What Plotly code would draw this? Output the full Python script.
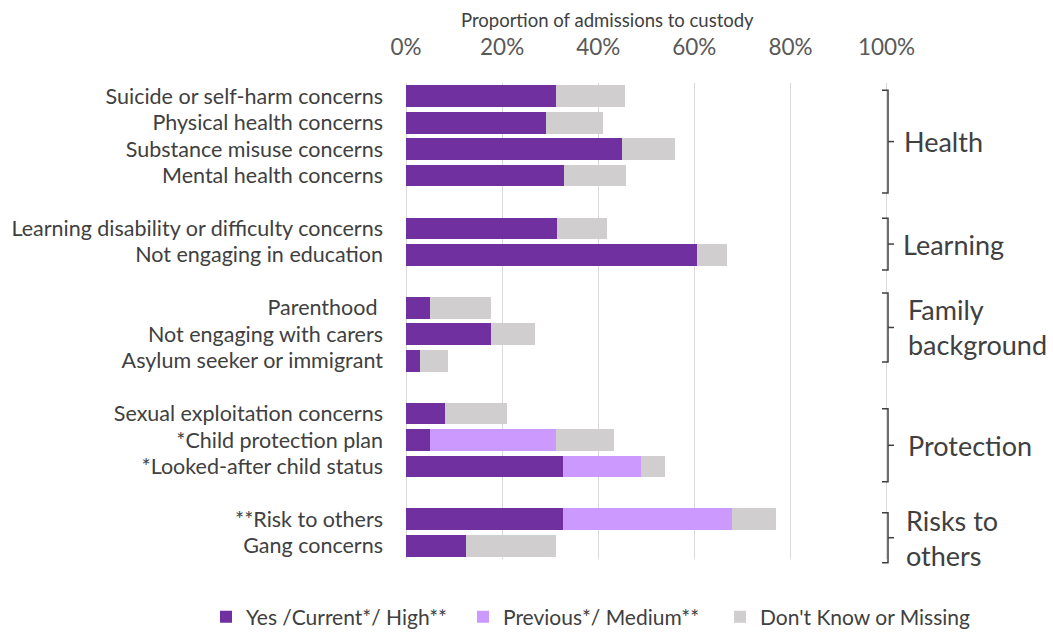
import plotly.graph_objects as go

# ---- data ----
group_names = ["Health", "Learning", "Family<br>background", "Protection", "Risks to<br>others"]
group_items = [
    ["Suicide or self-harm concerns", "Physical health concerns",
     "Substance misuse concerns", "Mental health concerns"],
    ["Learning disability or difficulty concerns", "Not engaging in education"],
    ["Parenthood ", "Not engaging with carers", "Asylum seeker or immigrant"],
    ["Sexual exploitation concerns", "*Child protection plan", "*Looked-after child status"],
    ["**Risk to others", "Gang concerns"],
]
yes_current_high = [31.2, 29.1, 45.0, 32.9, 31.5, 60.5, 5.0, 17.6, 2.9, 8.2, 5.0, 32.7, 32.7, 12.5]
previous_medium = [0, 0, 0, 0, 0, 0, 0, 0, 0, 0, 26.2, 16.1, 35.1, 0]
dont_know_missing = [14.4, 11.9, 10.9, 12.9, 10.4, 6.4, 12.6, 9.2, 5.8, 12.8, 12.1, 5.1, 9.2, 18.7]
series_names = ["Yes /Current*/ High**", "Previous*/ Medium**", "Don't Know or Missing"]
x_ticks = [0, 20, 40, 60, 80, 100]
x_tick_labels = ["0%", "20%", "40%", "60%", "80%", "100%"]

# ---- style ----
colors = ["#7030A0", "#CC99FF", "#D0CECE"]
FONT = "Lato"
TXT = "#404040"
W, H = 1053, 632
ML, MR, MT, MB = 406, 165, 83, 73
# bracket vertical extents relative to first/last item (in slot units)
bracket_pad = [(-0.23, 0.66), (-0.39, 0.57), (-0.56, 0.05), (-0.18, 0.58), (-0.25, 0.64)]
label_dx = [14, 13, 18, 18, 16]

# slot positions: one blank slot between groups
labels, ypos, group_ranges = [], [], []
slot = 0
for items in group_items:
    start = slot
    for it in items:
        labels.append(it)
        ypos.append(slot)
        slot += 1
    group_ranges.append((start, slot - 1))
    slot += 1
n_slots = slot - 1
y_lo, y_hi = -0.5, n_slots - 0.5

fig = go.Figure()
for name, vals, col in zip(series_names, [yes_current_high, previous_medium, dont_know_missing], colors):
    fig.add_trace(go.Bar(
        y=ypos, x=vals, name=name, orientation="h",
        marker=dict(color=col, line=dict(width=0)), width=0.82,
    ))

plot_w = W - ML - MR
plot_h = H - MT - MB


def ypaper(s):
    return (y_hi - s) / (y_hi - y_lo)


shapes = []
annotations = []
for gi, (g0, g1) in enumerate(group_ranges):
    top = g0 + bracket_pad[gi][0]
    bot = g1 + bracket_pad[gi][1]
    mid = (top + bot) / 2
    xb = 1.0
    tick = 6 / plot_w
    yt, yb, ym = ypaper(top), ypaper(bot), ypaper(mid)
    shapes.append(dict(type="path", xref="paper", yref="paper",
                       path=f"M {xb - tick} {yt} L {xb} {yt} L {xb} {yb} L {xb - tick} {yb}",
                       line=dict(color=TXT, width=1.5)))
    shapes.append(dict(type="line", xref="paper", yref="paper",
                       x0=xb, x1=xb + tick, y0=ym, y1=ym,
                       line=dict(color=TXT, width=1.5)))
    annotations.append(dict(xref="paper", yref="paper", x=xb + label_dx[gi] / plot_w, y=ym,
                            xanchor="left", yanchor="middle", align="left",
                            text=group_names[gi], showarrow=False,
                            font=dict(family=FONT, size=27, color=TXT)))

annotations.append(dict(xref="paper", yref="paper", x=(607 - ML) / plot_w, y=1 + (MT - 20) / plot_h,
                        xanchor="center", yanchor="middle",
                        text="Proportion of admissions to custody", showarrow=False,
                        font=dict(family=FONT, size=18.5, color=TXT)))

fig.update_layout(
    width=W, height=H,
    margin=dict(l=ML, r=MR, t=MT, b=MB, pad=0, autoexpand=False),
    barmode="stack",
    plot_bgcolor="white", paper_bgcolor="white",
    font=dict(family=FONT, color=TXT),
    showlegend=True,
    legend=dict(orientation="h", x=(206 - ML) / plot_w, xanchor="left",
                y=-(617 - (H - MB)) / plot_h, yanchor="middle",
                font=dict(family=FONT, size=21, color=TXT),
                itemwidth=30, entrywidth=212, entrywidthmode="pixels",
                traceorder="normal", bgcolor="rgba(0,0,0,0)"),
    shapes=shapes,
    annotations=annotations,
    bargap=0,
)
fig.update_xaxes(side="top", range=[0, 100.3], tickvals=x_ticks, ticktext=x_tick_labels,
                 showgrid=True, gridcolor="#D9D9D9", gridwidth=1,
                 zeroline=True, zerolinecolor="#D9D9D9", zerolinewidth=1,
                 showline=False, ticks="", ticklabelstandoff=23,
                 tickfont=dict(family=FONT, size=22.5, color="#595959"), fixedrange=True)
fig.update_yaxes(range=[y_hi, y_lo], tickvals=ypos, ticktext=labels,
                 showgrid=False, zeroline=False, showline=False, ticks="",
                 ticklabelstandoff=22,
                 tickfont=dict(family=FONT, size=21.5, color=TXT), fixedrange=True)

fig.write_html("out.html", config={"displayModeBar": False})

# remove the browser's default page margin so the figure sits at (0, 0)
with open("out.html", "r", encoding="utf-8") as f:
    html = f.read()
html = html.replace("<head>", "<head><style>html,body{margin:0;padding:0;overflow:hidden}</style>", 1)
with open("out.html", "w", encoding="utf-8") as f:
    f.write(html)
